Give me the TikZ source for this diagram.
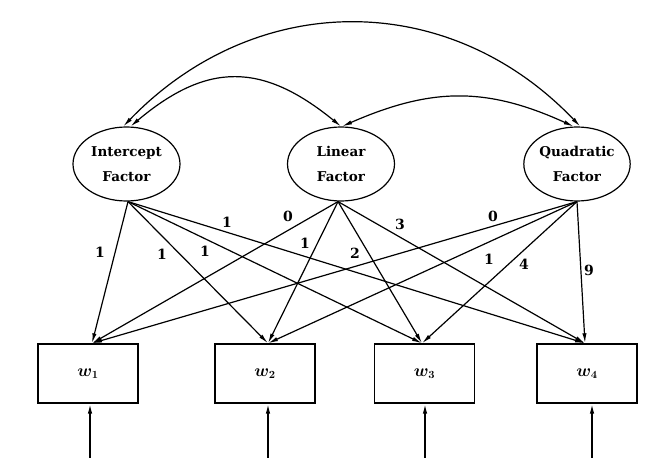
\documentclass[tikz,border=0pt]{standalone}
\usepackage{fontspec}
\newfontfamily\dvserif{DejaVu Serif}
\usetikzlibrary{shapes.geometric,arrows.meta}
\begin{document}
\begin{tikzpicture}[x=1pt,y=-1pt,
  factor/.style={ellipse,draw,line width=1.2pt,minimum width=107pt,minimum height=74pt,inner sep=0pt,align=center,font=\dvserif\fontsize{13.5}{25}\selectfont\bfseries},
  obs/.style={rectangle,draw,line width=1.4pt,minimum width=100pt,minimum height=59pt,inner sep=0pt,font=\fontsize{16}{18}\selectfont\boldmath},
  load/.style={line width=1.2pt,-{Latex[length=10pt,width=4.2pt]}},
  resid/.style={line width=1.5pt,-{Latex[length=10pt,width=4.5pt]}},
  cov/.style={line width=1.2pt,{Latex[length=10pt,width=4.2pt]}-{Latex[length=10pt,width=4.2pt]}},
  lab/.style={font=\dvserif\fontsize{14}{16}\selectfont\bfseries,inner sep=1pt}]
\useasboundingbox (0,0) rectangle (650,476);
% factors
\node[factor] (I) at (126.5,164) {Intercept\\Factor};
\node[factor] (L) at (341,164) {Linear\\Factor};
\node[factor,minimum width=105pt] (Q) at (577,164) {Quadratic\\Factor};
% observed
\node[obs] (w1) at (88,373.5) {$w_1$};
\node[obs] (w2) at (265,373.5) {$w_2$};
\node[obs] (w3) at (424.5,373.5) {$w_3$};
\node[obs] (w4) at (587,373.5) {$w_4$};
% source / target points
\coordinate (Is) at ([xshift=1.5pt]I.south);
\coordinate (Ls) at ([xshift=-3pt]L.south);
\coordinate (Qs) at (Q.south);
\coordinate (t1) at ([xshift=4pt]w1.north);
\coordinate (t2) at ([xshift=3pt]w2.north);
\coordinate (t3) at ([xshift=-2.5pt]w3.north);
\coordinate (t4) at ([xshift=-2pt]w4.north);
% loadings
\foreach \s in {Is,Ls,Qs}{
  \foreach \t in {t1,t2,t3,t4}{
    \draw[load] (\s) -- (\t);
  }
}
% residual arrows
\foreach \k/\dx in {1/2,2/3,3/0.5,4/5}{
  \coordinate (e\k) at ([xshift=\dx pt,yshift=-54pt]w\k.south);
  \draw[resid] (e\k) -- ([xshift=\dx pt]w\k.south);
}
% covariances
\draw[cov] (I.95) .. controls (256,-11) and (449,-11) .. (Q.85);
\draw[cov] (I.84) .. controls (207,62) and (262,62) .. (L.north);
\draw[cov] ([xshift=1pt]L.north) .. controls (432,87) and (487,87) .. (Q.95);
% labels
\node[lab] (a1) at (100,252) {1};
\node[lab] (a2) at (162,254) {1};
\node[lab] (a3) at (205,251) {1};
\node[lab] (a4) at (227,222) {1};
\node[lab] (b1) at (288,216) {0};
\node[lab] (b2) at (305,243) {1};
\node[lab] (b3) at (355,253) {2};
\node[lab] (b4) at (400,224) {3};
\node[lab] (c1) at (493,216) {0};
\node[lab] (c2) at (489,259) {1};
\node[lab] (c3) at (524,264) {4};
\node[lab] (c4) at (589,270) {9};
\end{tikzpicture}
\end{document}
